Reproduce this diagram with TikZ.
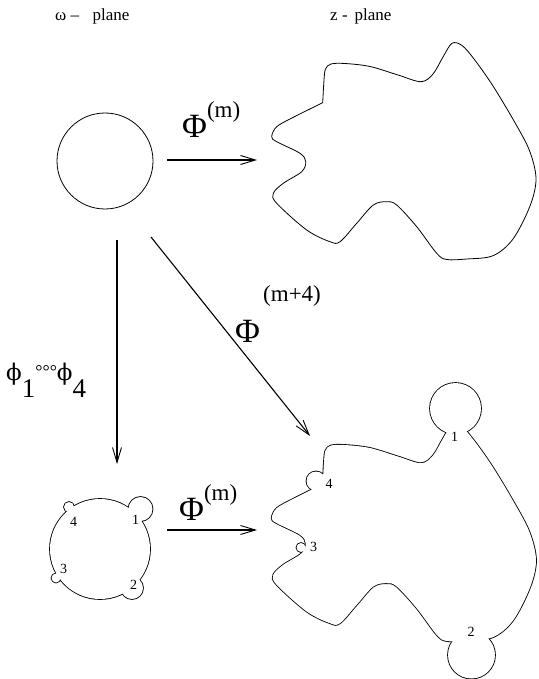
\documentclass[tikz,border=0pt]{standalone}
\usepackage{fontspec}
\setmainfont{Liberation Serif}
\newfontfamily\dvserif{DejaVu Serif}
\usetikzlibrary{arrows.meta}
\newcommand\blobpath{plot[smooth,tension=0.55] coordinates {(322.7,102.7) (324,80) (325.5,69) (331,64) (345,63.5) (370,66.5) (398,75) (421,81.7) (433,74) (443,57) (452,43.3) (462,45.5) (474,59) (493,86) (516.7,125.7) (530,152) (536,179) (530,206) (513,239) (493,255.7) (466.7,259) (446.7,259.5) (436.7,253.3) (416.7,226.7) (396.7,205) (386.7,201.7) (373.3,205) (356.7,223.3) (340,241.7) (330,241.7) (306.7,230) (276.7,203.3) (273.3,193.3) (283.3,183.3) (301.7,171.7) (305.7,161.7) (300,153.3) (276.7,141.7) (271.7,136.7) (276.7,126.7) (293.3,117.3) (322.7,102.7)} -- cycle}
\newcommand\bigphi{{\dvserif\fontsize{23}{23}\selectfont ϕ}}
\tikzset{
  shapeline/.style={line width=0.8pt, line join=round},
  unionline/.style={line width=1.7pt, line join=round},
  arr/.style={line width=1.1pt, -{Straight Barb[length=15pt,width=9pt,line width=0.9pt]}},
  num/.style={inner sep=0pt, font=\fontsize{14}{14}\selectfont},
  lab/.style={inner sep=0pt, anchor=base west},
  planelab/.style={inner sep=0pt, anchor=base west, font=\fontsize{17}{17}\selectfont}
}
\begin{document}
\begin{tikzpicture}[x=1pt,y=-1pt]
\useasboundingbox (0,0) rectangle (538,679);
% headings
\node[planelab] (wplane) at (55,21) {ω –\hspace{13.5pt}plane};
\node[planelab] (zplane) at (330,21) {z -\hspace{7pt}plane};
% upper left circle
\node[circle, draw, shapeline, minimum size=96pt, inner sep=0pt] (wc) at (105,161) {};
% upper blob
\draw[shapeline] \blobpath;
% lower blob with bumps (union outline)
\begin{scope}[shift={(0,381.5)}]
  \draw[unionline] \blobpath;
\end{scope}
\draw[unionline] (455.5,408.5) circle[radius=25.5pt] (471.5,655) circle[radius=23.5pt]
  (316,481) circle[radius=9.5pt] (301,547.5) circle[radius=4.5pt];
\begin{scope}[shift={(0,381.5)}]
  \fill[white] \blobpath;
\end{scope}
\fill[white] (455.5,408.5) circle[radius=25.5pt] (471.5,655) circle[radius=23.5pt]
  (316,481) circle[radius=9.5pt] (301,547.5) circle[radius=4.5pt];
% lower left disc with bumps
\draw[unionline] (100,549) circle[radius=50pt] (140.5,509) circle[radius=12pt]
  (69,507) circle[radius=5pt] (56,578) circle[radius=4.5pt] (132,588) circle[radius=11pt];
\fill[white] (100,549) circle[radius=50pt] (140.5,509) circle[radius=12pt]
  (69,507) circle[radius=5pt] (56,578) circle[radius=4.5pt] (132,588) circle[radius=11pt];
% numbers
\node[num] (l4) at (73.5,522) {4};
\node[num] (l1) at (135.5,520) {1};
\node[num] (l3) at (63.5,569) {3};
\node[num] (l2) at (133.5,585) {2};
\node[num] (r4) at (329,484) {4};
\node[num] (r1) at (454.5,437) {1};
\node[num] (r3) at (313.5,547) {3};
\node[num] (r2) at (471,632) {2};
% arrows
\coordinate (h1s) at (167,160); \coordinate (h1e) at (257,160);
\coordinate (h2s) at (167,530); \coordinate (h2e) at (257,530);
\coordinate (vs) at (117,240); \coordinate (ve) at (117,464);
\coordinate (ds) at (151,237); \coordinate (de) at (310,436);
\draw[arr] (h1s) -- (h1e);
\draw[arr] (h2s) -- (h2e);
\draw[arr] (vs) -- (ve);
\draw[arr] (ds) -- (de);
% labels
\node[lab] (phim1) at (182,138) {\fontsize{34}{34}\selectfont Φ\raisebox{20pt}{\fontsize{23}{23}\selectfont (m)}};
\node[lab] (phim2) at (179,520) {\fontsize{34}{34}\selectfont Φ\raisebox{20pt}{\fontsize{23}{23}\selectfont (m)}};
\node[lab] (phim4) at (235,342) {\fontsize{34}{34}\selectfont Φ};
\node[lab] (phim4s) at (263,301) {\fontsize{23}{23}\selectfont (m+4)};
\node[lab] (phis) at (6,380) {\bigphi\raisebox{-17pt}{\fontsize{27}{27}\selectfont 1}\raisebox{3pt}{\fontsize{18}{18}\selectfont °°°}\bigphi\raisebox{-17pt}{\fontsize{27}{27}\selectfont 4}};
\end{tikzpicture}
\end{document}
